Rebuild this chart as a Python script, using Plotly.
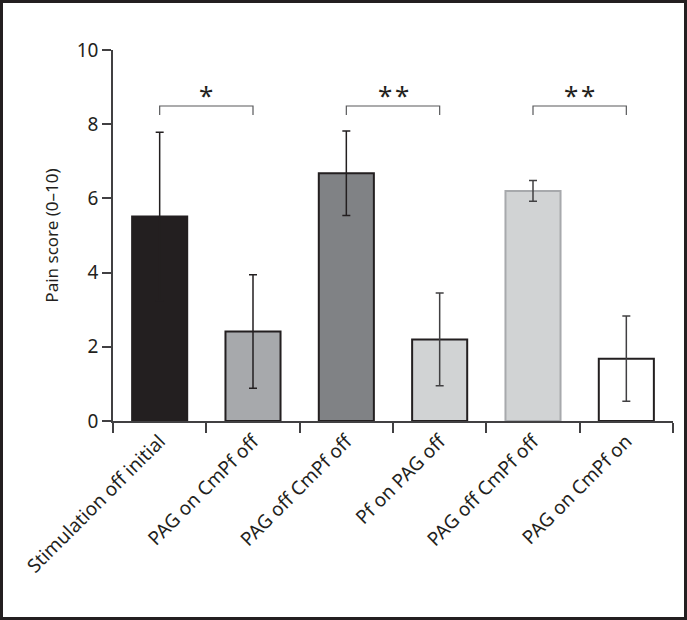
import plotly.graph_objects as go

categories = ["Stimulation off initial", "PAG on CmPf off", "PAG off CmPf off",
              "Pf on PAG off", "PAG off CmPf off ", "PAG on CmPf on"]
tick_text = ["Stimulation off initial", "PAG on CmPf off", "PAG off CmPf off",
             "Pf on PAG off", "PAG off CmPf off", "PAG on CmPf on"]
means = [5.51, 2.41, 6.68, 2.20, 6.20, 1.68]
errors = [2.27, 1.53, 1.14, 1.25, 0.28, 1.15]
fill_colors = ["#231f20", "#a7a9ac", "#808285", "#d1d3d4", "#d1d3d4", "#ffffff"]
edge_colors = ["#231f20", "#231f20", "#231f20", "#231f20", "#a7a9ac", "#231f20"]
err_colors = ["#231f20", "#231f20", "#231f20", "#414042", "#414042", "#414042"]

pairs = [(0, 1, "*"), (2, 3, "*\u200a*"), (4, 5, "*\u200a*")]
bracket_top = 8.49
bracket_leg = 8.25
y_title = "Pain score (0–10)"

FONT = "Noto Sans"
TXT = "#231f20"

fig = go.Figure()
for i, c in enumerate(categories):
    fig.add_trace(go.Bar(
        x=[c], y=[means[i]], width=0.59,
        marker=dict(color=fill_colors[i], line=dict(color=edge_colors[i], width=2)),
        error_y=dict(type="data", array=[errors[i]], color=err_colors[i],
                     thickness=1.5, width=4),
        showlegend=False, hoverinfo="skip"))

for a, b, star in pairs:
    fig.add_trace(go.Scatter(
        x=[categories[a], categories[a], categories[b], categories[b]],
        y=[bracket_leg, bracket_top, bracket_top, bracket_leg],
        mode="lines", line=dict(color="#58595b", width=1.2),
        showlegend=False, hoverinfo="skip"))

annotations = []
for a, b, star in pairs:
    annotations.append(dict(
        x=(a + b) / 2, y=bracket_top, xref="x", yref="y",
        text=star, showarrow=False, yanchor="bottom", yshift=-9,
        font=dict(family=FONT, size=26, color=TXT)))

L, R, T, B = 113, 14, 50, 199
W, H = 687, 620
pw, ph = W - L - R, H - T - B

fig.update_layout(
    width=W, height=H, barmode="overlay",
    margin=dict(l=L, r=R, t=T, b=B),
    paper_bgcolor="white", plot_bgcolor="white",
    font=dict(family=FONT, size=17, color=TXT),
    annotations=annotations,
    xaxis=dict(type="category", categoryorder="array", categoryarray=categories,
               tickvals=categories, ticktext=tick_text, tickangle=-45,
               tickson="boundaries", ticks="outside", ticklen=10, tickwidth=1.5,
               tickcolor="#414042", showline=True, linecolor="#414042", linewidth=1.5,
               showgrid=False, zeroline=False, range=[-0.5, 5.5],
               tickfont=dict(family=FONT, size=19, color=TXT)),
    yaxis=dict(range=[0, 10], tickvals=[0, 2, 4, 6, 8, 10], ticks="outside",
               ticklen=9, tickwidth=1.5, tickcolor="#414042", showline=True,
               linecolor="#414042", linewidth=1.5, showgrid=False, zeroline=False,
               tickfont=dict(family=FONT, size=19, color=TXT),
               title=dict(text=y_title, standoff=14,
                          font=dict(family=FONT, size=17, color=TXT))),
    shapes=[dict(type="rect", xref="paper", yref="paper",
                 x0=(1.5 - L) / pw, x1=(W - 1.5 - L) / pw,
                 y0=(H - B - (H - 1.5)) / ph, y1=(H - B - 1.5) / ph,
                 line=dict(color="#231f20", width=3), layer="above")],
)

fig.write_html("out.html", config={"displayModeBar": False},
               post_script="document.body.style.margin='0';document.body.style.overflow='hidden';")
